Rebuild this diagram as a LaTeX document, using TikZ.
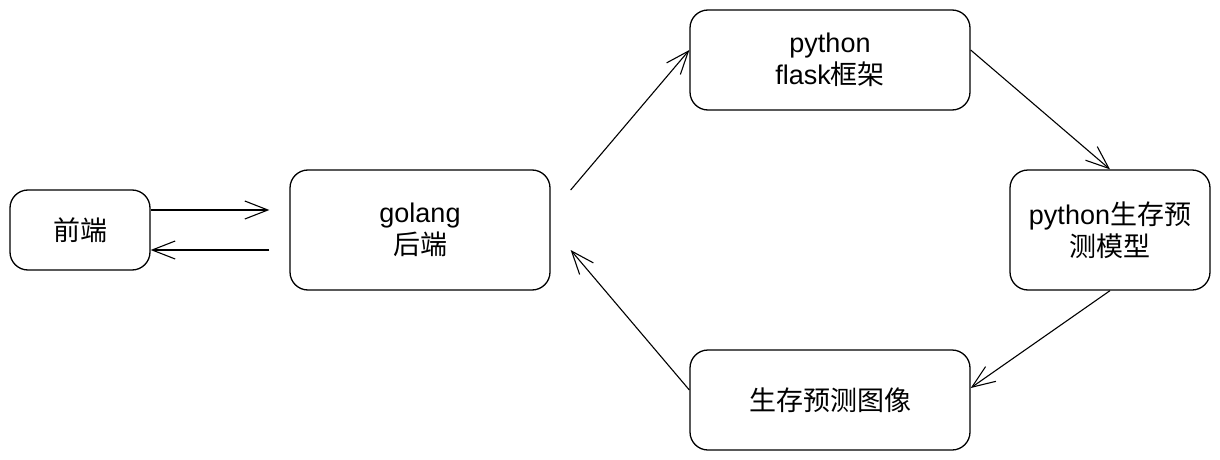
\documentclass[tikz,border=0pt]{standalone}
\usepackage{fontspec}
\setmainfont{Liberation Sans}
\newfontfamily\cjk{Noto Sans CJK SC}
\usepackage{tikz}
\usetikzlibrary{positioning,calc,arrows.meta}

\tikzset{
    box/.style={draw, line width=1.3pt, rounded corners=18pt, align=center,
        inner sep=0pt, font=\fontsize{27}{32}\selectfont},
    arr/.style={line width=1.1pt, -{Straight Barb[length=23pt,width=18pt,line width=1.1pt]}}
}

\begin{document}
\begin{tikzpicture}[x=1pt,y=-1pt]
    \useasboundingbox (0,0) rectangle (1220,460);
    % boxes
    \node[box, minimum width=140pt, minimum height=80pt] (frontend) at (80,230) {\cjk 前端};
    \node[box, minimum width=260pt, minimum height=120pt] (backend) at (420,230) {golang\\{\cjk 后端}};
    \node[box, minimum width=280pt, minimum height=100pt] (flask) at (830,60) {python\\flask{\cjk 框架}};
    \node[box, minimum width=200pt, minimum height=120pt] (model) at (1110,230) {python{\cjk 生存预}\\{\cjk 测模型}};
    \node[box, minimum width=280pt, minimum height=100pt] (image) at (830,400) {\cjk 生存预测图像};

    % front end <-> back end
    \draw[arr] ($(frontend.east)+(0,-20)$) -- ($(backend.west)+(-20,-20)$);
    \draw[arr] ($(backend.west)+(-20,20)$) -- ($(frontend.east)+(0,20)$);

    % loop through python
    \draw[arr] ($(backend.east)+(20,-40)$) -- ($(flask.west)+(0,-10)$);
    \draw[arr] ($(flask.east)+(0,-10)$) -- (model.north);
    \draw[arr] (model.south) -- ($(image.east)+(0,-12)$);
    \draw[arr] ($(image.west)+(0,-10)$) -- ($(backend.east)+(20,20)$);
\end{tikzpicture}
\end{document}
